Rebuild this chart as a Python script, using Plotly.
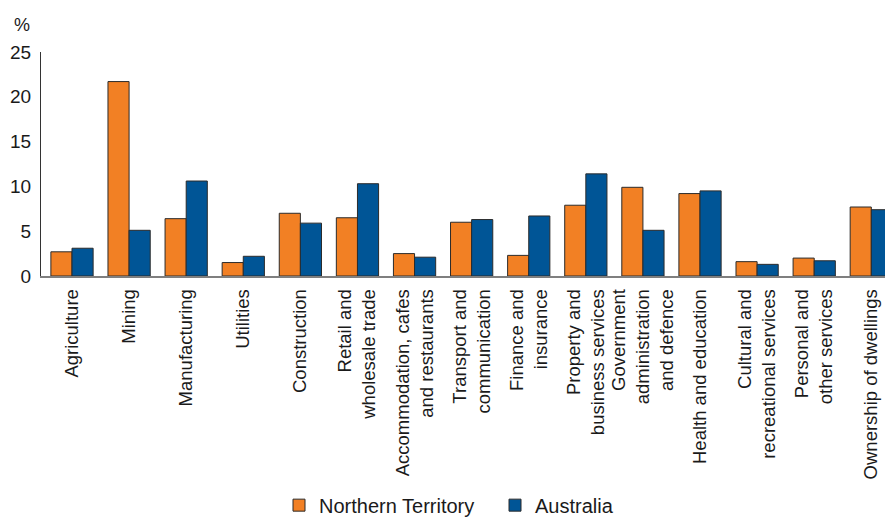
import plotly.graph_objects as go

categories = [
    "Agriculture", "Mining", "Manufacturing", "Utilities", "Construction",
    "Retail and<br>wholesale trade", "Accommodation, cafes<br>and restaurants",
    "Transport and<br>communication", "Finance and<br>insurance",
    "Property and<br>business services", "Government<br>administration<br>and defence",
    "Health and education", "Cultural and<br>recreational services",
    "Personal and<br>other services", "Ownership of dwellings",
]
northern_territory = [2.7, 21.7, 6.4, 1.5, 7.0, 6.5, 2.5, 6.0, 2.3, 7.9, 9.9, 9.2, 1.6, 2.0, 7.7]
australia = [3.1, 5.1, 10.6, 2.2, 5.9, 10.3, 2.1, 6.3, 6.7, 11.4, 5.1, 9.5, 1.3, 1.7, 7.4]
y_ticks = [0, 5, 10, 15, 20, 25]

FONT = "Liberation Sans, Arial, sans-serif"
x_idx = list(range(len(categories)))

fig = go.Figure()
fig.add_trace(go.Bar(x=x_idx, y=northern_territory, name="Northern Territory",
                     marker=dict(color="#F28024", line=dict(color="#2b2b2b", width=1))))
fig.add_trace(go.Bar(x=x_idx, y=australia, name="Australia",
                     marker=dict(color="#005596", line=dict(color="#2b2b2b", width=1))))

fig.update_layout(
    width=885, height=517,
    margin=dict(l=41, r=0, t=52, b=241, autoexpand=False),
    paper_bgcolor="white", plot_bgcolor="white",
    barmode="group", bargap=0.26, bargroupgap=0,
    font=dict(family=FONT, color="#1a1a1a", size=18),
    showlegend=True,
    legend=dict(orientation="h", x=0.282, xanchor="left", y=-1.023, yanchor="middle",
                font=dict(size=20, color="#1a1a1a"), itemwidth=30, traceorder="normal",
                entrywidth=171, entrywidthmode="pixels"),
    xaxis=dict(
        range=[-0.543, 14.24], tickmode="array", tickvals=x_idx, ticktext=categories,
        tickangle=-90, showgrid=False, zeroline=False, showline=True,
        linecolor="#7f7f7f", linewidth=1.5, ticks="", tickfont=dict(size=18.5),
        ticklabelstandoff=4,
    ),
    yaxis=dict(
        range=[0, 25], tickmode="array", tickvals=y_ticks, showgrid=False,
        zeroline=False, showline=True, linecolor="#333333", linewidth=1,
        ticks="", tickfont=dict(size=19), ticklabelstandoff=5,
    ),
    annotations=[dict(text="%", xref="paper", yref="paper", x=-0.0225, y=1.12,
                      xanchor="center", yanchor="middle", showarrow=False,
                      font=dict(size=18, color="#1a1a1a"))],
)

fig.write_html(
    "out.html",
    config={"displayModeBar": False},
    post_script="document.body.style.margin='0';document.body.style.overflow='hidden';",
)
